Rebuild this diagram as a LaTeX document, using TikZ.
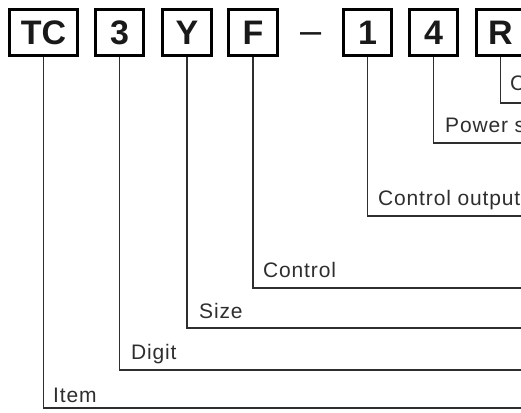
\documentclass[tikz,border=0pt]{standalone}
\usepackage{fontspec}
\setmainfont{Liberation Sans}
\newfontfamily\lblfont[LetterSpace=4]{Liberation Sans}
\definecolor{ink}{HTML}{2E2E2E}
\begin{document}
\begin{tikzpicture}[x=1pt,y=-1pt,
  code/.style={draw=black, line width=2.6pt, minimum width=48.5pt, minimum height=46.5pt, inner sep=0pt,
    font=\fontsize{34}{34}\selectfont\bfseries, text=black!90},
  lbl/.style={anchor=base west, inner sep=0pt, text=ink, font=\fontsize{21}{21}\lblfont},
  conn/.style={draw=ink, line width=1.3pt}]
\useasboundingbox (0,0) rectangle (521,412);
% code boxes
\node[code, minimum width=68.5pt] (tc) at (43.5,32.5) {TC};
\node[code] (d3) at (119.5,32.5) {3};
\node[code] (sy) at (187,32.5) {Y};
\node[code] (cf) at (253,32.5) {F};
\node[inner sep=0pt, anchor=base, font=\fontsize{38}{38}\selectfont, text=black!90] (dash) at (311.5,43.5) {–};
\node[code] (o1) at (367.5,32.5) {1};
\node[code] (p4) at (433.5,32.5) {4};
\node[code] (cr) at (500.5,32.5) {R};
% free ends
\coordinate (eTC) at (530,408);
\coordinate (e3) at (530,370);
\coordinate (eY) at (530,328);
\coordinate (eF) at (530,288);
\coordinate (e1) at (530,216);
\coordinate (e4) at (530,143);
\coordinate (eR) at (530,103);
% connectors
\draw[conn] (tc.south) |- (eTC);
\draw[conn] (d3.south) |- (e3);
\draw[conn] (sy.south) |- (eY);
\draw[conn] (cf.south) |- (eF);
\draw[conn] (o1.south) |- (e1);
\draw[conn] (p4.south) |- (e4);
\draw[conn] (cr.south) |- (eR);
% labels
\node[lbl] (lItem) at (53,402) {Item};
\node[lbl] (lDigit) at (131,359) {Digit};
\node[lbl] (lSize) at (199,318) {Size};
\node[lbl] (lCtrl) at (263,277) {Control};
\node[lbl] (lOut) at (378,205) {Control output};
\node[lbl] (lPow) at (445,132) {Power s};
\node[lbl] (lC) at (510,90) {C};
\end{tikzpicture}
\end{document}
